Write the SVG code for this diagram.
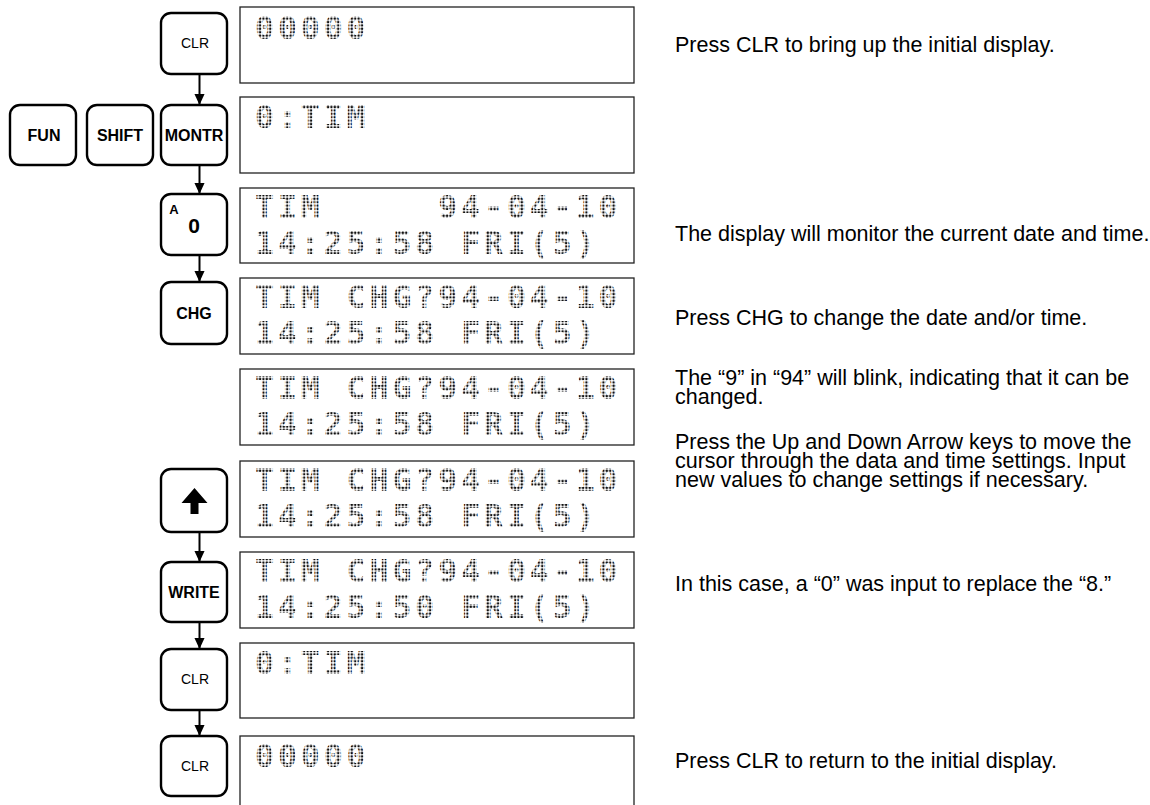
<svg xmlns="http://www.w3.org/2000/svg" width="1150" height="805" viewBox="0 0 1150 805">
<style>
.box{fill:none;stroke:#222;stroke-width:1.3}
.key{fill:#fff;stroke:#000;stroke-width:2.4}
.lcd{font-family:"DejaVu Sans Mono","Liberation Mono",monospace;font-size:31.5px;font-weight:bold;letter-spacing:3.94px;fill:url(#dots)}
.kb{font-family:"Liberation Sans",Arial,sans-serif;font-size:16px;font-weight:bold;text-anchor:middle;fill:#000}
.kr{font-family:"Liberation Sans",Arial,sans-serif;font-size:14px;text-anchor:middle;fill:#000}
.note{font-family:"Liberation Sans",Arial,sans-serif;font-size:21.5px;fill:#000}
.conn{stroke:#000;stroke-width:2;fill:none}
</style>
<defs>
<pattern id="dots" width="3.4" height="3.4" patternUnits="userSpaceOnUse">
<rect x="0.5" y="0.5" width="2.2" height="2.2" rx="0.6" fill="#111"/>
</pattern>
<marker id="ah" markerUnits="userSpaceOnUse" markerWidth="11" markerHeight="12" refX="12" refY="5.5" orient="auto" viewBox="0 0 12 11">
<path d="M0,0 L12,5.5 L0,11 z" fill="#000"/>
</marker>
</defs>

<g id="displays">
<g id="disp1"><rect class="box" x="240" y="7" width="394" height="76"/>
<text class="lcd" x="255" y="39">00000</text></g>
<g id="disp2"><rect class="box" x="240" y="97" width="394" height="76"/>
<text class="lcd" x="255" y="128">0:TIM</text></g>
<g id="disp3"><rect class="box" x="240" y="188" width="394" height="75"/>
<text class="lcd" x="255" y="218">TIM<tspan x="438.2">94-04-10</tspan></text>
<text class="lcd" x="255" y="254">14:25:58 FRI(5)</text></g>
<g id="disp4"><rect class="box" x="240" y="278" width="394" height="76"/>
<text class="lcd" x="255" y="308">TIM CHG?94-04-10</text>
<text class="lcd" x="255" y="344">14:25:58 FRI(5)</text></g>
<g id="disp5"><rect class="box" x="240" y="369" width="394" height="76"/>
<text class="lcd" x="255" y="399">TIM CHG?94-04-10</text>
<text class="lcd" x="255" y="435">14:25:58 FRI(5)</text></g>
<g id="disp6"><rect class="box" x="240" y="461" width="394" height="76"/>
<text class="lcd" x="255" y="491">TIM CHG?94-04-10</text>
<text class="lcd" x="255" y="527">14:25:58 FRI(5)</text></g>
<g id="disp7"><rect class="box" x="240" y="552" width="394" height="76"/>
<text class="lcd" x="255" y="582">TIM CHG?94-04-10</text>
<text class="lcd" x="255" y="618">14:25:50 FRI(5)</text></g>
<g id="disp8"><rect class="box" x="240" y="643" width="394" height="75"/>
<text class="lcd" x="255" y="674">0:TIM</text></g>
<g id="disp9"><rect class="box" x="240" y="736" width="394" height="80"/>
<text class="lcd" x="255" y="767">00000</text></g>
</g>

<g id="keys">
<g id="key-clr1"><rect class="key" x="161" y="13" width="66" height="61" rx="10"/><text class="kr" x="195" y="48">CLR</text></g>
<g id="key-fun"><rect class="key" x="10" y="105" width="66" height="60" rx="10"/><text class="kb" x="44" y="141">FUN</text></g>
<g id="key-shift"><rect class="key" x="87" y="105" width="66" height="60" rx="10"/><text class="kb" x="120" y="141">SHIFT</text></g>
<g id="key-montr"><rect class="key" x="161" y="105" width="66" height="60" rx="10"/><text class="kb" x="194" y="141">MONTR</text></g>
<g id="key-a0"><rect class="key" x="161" y="194" width="66" height="61" rx="10"/>
<text class="kb" x="174" y="214" style="font-size:13px">A</text>
<text class="kb" x="194" y="233" style="font-size:21px">0</text></g>
<g id="key-chg"><rect class="key" x="161" y="282" width="66" height="62" rx="10"/><text class="kb" x="194" y="319">CHG</text></g>
<g id="key-up"><rect class="key" x="161" y="469" width="66" height="63" rx="10"/>
<polygon points="194.5,488 207.5,503 198.5,503 198.5,514 190.5,514 190.5,503 181.5,503" fill="#000"/></g>
<g id="key-write"><rect class="key" x="161" y="562" width="66" height="60" rx="10"/><text class="kb" x="194" y="598">WRITE</text></g>
<g id="key-clr2"><rect class="key" x="161" y="649" width="66" height="61" rx="10"/><text class="kr" x="195" y="684">CLR</text></g>
<g id="key-clr3"><rect class="key" x="161" y="736" width="66" height="60" rx="10"/><text class="kr" x="195" y="771">CLR</text></g>
</g>

<g id="connectors">
<line class="conn" x1="199.5" y1="74" x2="199.5" y2="105" marker-end="url(#ah)"/>
<line class="conn" x1="199.5" y1="165" x2="199.5" y2="194" marker-end="url(#ah)"/>
<line class="conn" x1="199.5" y1="255" x2="199.5" y2="282" marker-end="url(#ah)"/>
<line class="conn" x1="199.5" y1="532" x2="199.5" y2="562" marker-end="url(#ah)"/>
<line class="conn" x1="199.5" y1="622" x2="199.5" y2="649" marker-end="url(#ah)"/>
<line class="conn" x1="199.5" y1="710" x2="199.5" y2="736" marker-end="url(#ah)"/>
</g>

<g id="notes">
<text class="note" x="675" y="52">Press CLR to bring up the initial display.</text>
<text class="note" x="675" y="241">The display will monitor the current date and time.</text>
<text class="note" x="675" y="325">Press CHG to change the date and/or time.</text>
<text class="note" x="675" y="385">The “9” in “94” will blink, indicating that it can be</text>
<text class="note" x="675" y="404">changed.</text>
<text class="note" x="675" y="449">Press the Up and Down Arrow keys to move the</text>
<text class="note" x="675" y="468">cursor through the data and time settings. Input</text>
<text class="note" x="675" y="487">new values to change settings if necessary.</text>
<text class="note" x="675" y="591">In this case, a “0” was input to replace the “8.”</text>
<text class="note" x="675" y="768">Press CLR to return to the initial display.</text>
</g>
</svg>
